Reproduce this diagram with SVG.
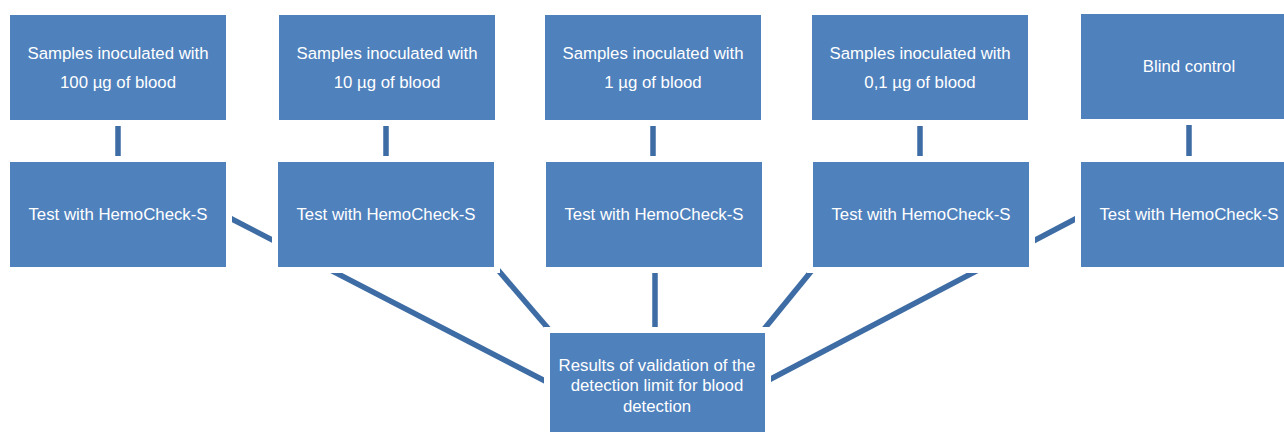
<svg xmlns="http://www.w3.org/2000/svg" width="1284" height="432" viewBox="0 0 1284 432">
<style>
.box{fill:#4F81BD}
.halo{fill:#FFFFFF}
.t{font-family:"Liberation Sans",Arial,sans-serif;font-size:16.8px;fill:#FFFFFF;text-anchor:middle}
.c{stroke:#3E6CA4;stroke-width:5.5;fill:none}
</style>
<rect width="1284" height="432" fill="#FFFFFF"/>
<g id="connectors">
<line class="c" x1="118" y1="67" x2="118" y2="214"/>
<line class="c" x1="386" y1="67" x2="386" y2="214"/>
<line class="c" x1="653" y1="67" x2="653" y2="214"/>
<line class="c" x1="920" y1="67" x2="920" y2="214"/>
<line class="c" x1="1189" y1="67" x2="1189" y2="214"/>
<line class="c" x1="226" y1="216" x2="549" y2="383"/>
<line class="c" x1="450" y1="214" x2="595" y2="383"/>
<line class="c" x1="655" y1="214" x2="655" y2="383"/>
<line class="c" x1="858" y1="214" x2="720" y2="383"/>
<line class="c" x1="1081" y1="216" x2="765" y2="382"/>
</g>
<g id="s100">
<rect class="halo" x="4" y="9" width="228" height="117"/>
<rect class="box" x="10" y="15" width="216" height="105"/>
<text class="t" x="118" y="59">Samples inoculated with</text>
<text class="t" x="118" y="88">100 µg of blood</text>
</g>
<g id="s10">
<rect class="halo" x="273" y="9" width="228" height="117"/>
<rect class="box" x="279" y="15" width="216" height="105"/>
<text class="t" x="387" y="59">Samples inoculated with</text>
<text class="t" x="387" y="88">10 µg of blood</text>
</g>
<g id="s1">
<rect class="halo" x="539" y="9" width="228" height="117"/>
<rect class="box" x="545" y="15" width="216" height="105"/>
<text class="t" x="653" y="59">Samples inoculated with</text>
<text class="t" x="653" y="88">1 µg of blood</text>
</g>
<g id="s01">
<rect class="halo" x="806" y="9" width="228" height="117"/>
<rect class="box" x="812" y="15" width="216" height="105"/>
<text class="t" x="920" y="59">Samples inoculated with</text>
<text class="t" x="920" y="88">0,1 µg of blood</text>
</g>
<g id="blind">
<rect class="halo" x="1075" y="8" width="228" height="117"/>
<rect class="box" x="1081" y="14" width="216" height="105"/>
<text class="t" x="1189" y="72">Blind control</text>
</g>
<g id="test1">
<rect class="halo" x="4" y="156" width="228" height="117"/>
<rect class="box" x="10" y="162" width="216" height="105"/>
<text class="t" x="118" y="220">Test with HemoCheck-S</text>
</g>
<g id="test2">
<rect class="halo" x="272" y="156" width="228" height="117"/>
<rect class="box" x="278" y="162" width="216" height="105"/>
<text class="t" x="386" y="220">Test with HemoCheck-S</text>
</g>
<g id="test3">
<rect class="halo" x="540" y="156" width="228" height="117"/>
<rect class="box" x="546" y="162" width="216" height="105"/>
<text class="t" x="654" y="220">Test with HemoCheck-S</text>
</g>
<g id="test4">
<rect class="halo" x="807" y="156" width="228" height="117"/>
<rect class="box" x="813" y="162" width="216" height="105"/>
<text class="t" x="921" y="220">Test with HemoCheck-S</text>
</g>
<g id="test5">
<rect class="halo" x="1075" y="156" width="228" height="117"/>
<rect class="box" x="1081" y="162" width="216" height="105"/>
<text class="t" x="1189" y="220">Test with HemoCheck-S</text>
</g>
<g id="results">
<rect class="halo" x="544" y="327" width="227" height="116"/>
<rect class="box" x="550" y="333" width="215" height="104"/>
<text class="t" x="657" y="371">Results of validation of the</text>
<text class="t" x="657" y="391">detection limit for blood</text>
<text class="t" x="657" y="412">detection</text>
</g>
</svg>
